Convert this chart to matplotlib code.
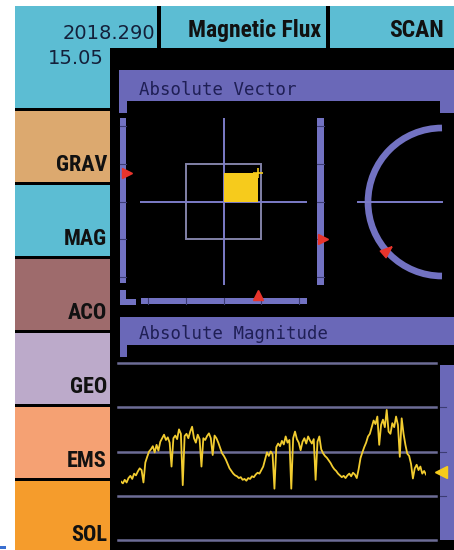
import os
import numpy as np
import matplotlib.pyplot as plt
from matplotlib import font_manager
from matplotlib.patches import Rectangle, Arc
from matplotlib.transforms import blended_transform_factory as blend

W, H = 454, 550

# header texts
date_str = "2018.290"
time_str = "15.05"
title_str = "Magnetic Flux"
mode_str = "SCAN"

sections = ["GRAV", "MAG", "ACO", "GEO", "EMS", "SOL"]
section_colors = ["#DCA96F", "#5CBDD3", "#9E6B6C", "#BCAACA", "#F5A173", "#F59C2C"]

# absolute vector (units of the inner box half width)
vec_x = 0.9
vec_y = 0.74
vec_z = -1.0
dial_angle = 221          # degrees
vector_ticks = [-2, -1, 0, 1, 2]

# absolute magnitude trace
magnitude = [
    1.32, 1.28, 1.36, 1.30, 1.40, 1.45, 1.38, 1.50, 1.46, 1.55, 1.62, 1.58, 1.30, 1.75, 1.88, 2.00,
    2.05, 2.12, 1.98, 2.15, 2.02, 2.22, 2.30, 2.38, 2.26, 2.32, 2.20, 1.66, 2.30, 2.36, 2.28, 2.50,
    2.40, 1.24, 2.35, 2.40, 2.30, 2.45, 2.56, 2.30, 2.20, 2.38, 2.28, 1.66, 2.30, 2.26, 2.35, 2.41,
    2.30, 1.92, 2.36, 2.30, 2.20, 2.08,
    1.96, 1.90, 1.82, 1.72, 1.62, 1.56, 1.50, 1.46, 1.44, 1.40, 1.42, 1.36, 1.38, 1.34, 1.40, 1.38,
    1.44, 1.42, 1.48, 1.52, 1.50, 1.58, 1.66,
    1.82, 1.98, 1.90, 2.00, 1.94, 1.16, 2.10, 2.18, 2.12, 2.24, 2.16, 2.34, 2.20, 2.26, 1.16, 2.30,
    2.45, 2.28, 2.20, 2.03, 2.22, 2.30, 2.18, 2.34, 2.25, 2.18, 2.28, 1.36, 2.22, 2.34, 2.05, 1.96,
    1.90, 1.86, 1.80, 1.74, 1.66, 1.60, 1.56, 1.50, 1.46, 1.42, 1.45, 1.40, 1.46, 1.50, 1.44, 1.52,
    1.48, 1.40,
    1.60, 1.85, 1.98, 2.10, 2.20, 2.34, 2.40, 2.55, 2.70, 2.62, 2.79, 2.15, 2.60, 2.72, 2.55, 2.94,
    2.45, 2.40, 2.64, 2.55, 2.79, 2.60, 1.88, 2.75, 2.40, 2.15, 1.95, 1.90, 1.72,
    1.39, 1.62, 1.70, 1.58, 1.66, 1.50, 1.56, 1.48,
]
grid_levels = [0, 1, 2, 3, 4]
current_level = 1.54

CYAN = "#5CBDD3"
PURPLE = "#6A68B8"
BAR = "#7272C2"
TICK = "#3C3C74"
RED = "#E8342C"
YELLOW = "#F6CB1C"
NAVY = "#1F1F55"

# look for an installed narrow/condensed bold face for the LCARS style labels
narrow_file = None
for pat in ["LiberationSansNarrow-Bold", "RobotoCondensed-Bold", "NotoSans-CondensedBold",
            "OpenSans_Condensed-Bold", "OpenSansCondensed-Bold", "DejaVuSansCondensed-Bold"]:
    for f in font_manager.fontManager.ttflist:
        if os.path.basename(f.fname).startswith(pat):
            narrow_file = f.fname
            break
    if narrow_file:
        break
if narrow_file:
    narrow = font_manager.FontProperties(fname=narrow_file)
    title_size, label_size = 17, 16
else:
    narrow = font_manager.FontProperties(family="DejaVu Sans", weight="bold")
    title_size, label_size = 13.5, 11.5

fig = plt.figure(figsize=(W / 100, H / 100), dpi=100)
fig.patch.set_facecolor("white")

# background frame in pixel units
bg = fig.add_axes([0, 0, 1, 1])
bg.set_xlim(0, W)
bg.set_ylim(H, 0)
bg.axis("off")


def box(x0, y0, x1, y1, color):
    bg.add_patch(Rectangle((x0, y0), x1 - x0, y1 - y0, facecolor=color,
                           edgecolor="none", zorder=1))


box(15, 6, W, H, "black")
box(15, 6, W, 48, CYAN)
box(157, 6, 161, 48, "black")
box(326, 6, 330, 48, "black")
box(15, 48, 110, 108, CYAN)
box(0, 546, 6, 549, "#3A6FD0")

bg.text(155, 39, date_str, ha="right", va="baseline", fontsize=14, color="#14203A", zorder=3)
bg.text(104, 64, time_str, ha="right", va="baseline", fontsize=14, color="#14203A", zorder=3)
bg.text(255, 37, title_str, ha="center", va="baseline", fontproperties=narrow,
        fontsize=title_size, color="#111111", zorder=3)
bg.text(444, 37, mode_str, ha="right", va="baseline", fontproperties=narrow,
        fontsize=title_size, color="#111111", zorder=3)

# side column
for i, (name, col) in enumerate(zip(sections, section_colors)):
    top = 111 + i * 74
    box(15, top, 110, min(top + 71, H), col)
    bg.text(107, top + 60, name, ha="right", va="baseline", fontproperties=narrow,
            fontsize=label_size, color="#111111", zorder=3)

# --- Absolute Vector panel frame
box(119, 70, W, 101, PURPLE)
box(119, 101, 127, 113, PURPLE)
box(440, 101, W, 113, PURPLE)
bg.text(139, 95, "Absolute Vector", ha="left", va="baseline", fontsize=12.5,
        family="DejaVu Sans Mono", color=NAVY, zorder=3)

box(120, 118, 126, 283, BAR)        # left scale
box(120, 290, 126, 305, BAR)
box(120, 299, 136, 305, BAR)
box(141, 298, 307, 304, BAR)        # bottom scale
box(317, 118, 324, 285, BAR)        # right scale

av = fig.add_axes([140 / W, 1 - 285 / H, 167 / W, 167 / H])
av.set_xlim(-2.2, 2.2)
av.set_ylim(-2.2, 2.2)
av.axis("off")
av.patch.set_alpha(0)
av.axhline(0, color="#7C7CC8", lw=1.4)
av.axvline(0, color="#7C7CC8", lw=1.4)
av.add_patch(Rectangle((-1, -1), 2, 2, fill=False, edgecolor="#8282A8", lw=1.4))
av.add_patch(Rectangle((0, 0), vec_x, vec_y, facecolor=YELLOW, edgecolor="none", zorder=3))
av.plot(vec_x, vec_y, marker="+", ms=7, mew=1.2, color=YELLOW, zorder=4)

bx_vy = blend(bg.transData, av.transData)
vx_by = blend(av.transData, bg.transData)
for v in vector_ticks:
    bg.plot([120, 126], [v, v], transform=bx_vy, color=TICK, lw=0.8, zorder=2)
    bg.plot([317, 324], [v, v], transform=bx_vy, color=TICK, lw=0.8, zorder=2)
    bg.plot([v, v], [298, 304], transform=vx_by, color=TICK, lw=0.8, zorder=2)
bg.plot(127, vec_y, transform=bx_vy, marker=">", ms=7, color=RED, zorder=5)
bg.plot(323, vec_z, transform=bx_vy, marker=">", ms=7, color=RED, zorder=5)
bg.plot(vec_x, 295, transform=vx_by, marker="^", ms=7, color=RED, zorder=5)

# dial
cx, cy, r = 442, 202, 74
bg.add_patch(Arc((cx, cy), 2 * r, 2 * r, theta1=90, theta2=270, color=BAR, lw=4.8, zorder=2))
bg.plot([cx - 84, cx], [cy, cy], color="#7C7CC8", lw=1.4, zorder=2)
a = np.deg2rad(dial_angle)
d = np.array([-np.cos(a), -np.sin(a)])      # points toward the dial centre
p = np.array([-d[1], d[0]])
wedge = [tuple(d), tuple(-0.6 * d + 0.6 * p), tuple(-0.6 * d - 0.6 * p), tuple(d)]
bg.plot(cx + r * np.cos(a), cy - r * np.sin(a), marker=wedge, ms=9, color=RED, zorder=5)

# --- Absolute Magnitude panel
box(120, 317, W, 345, PURPLE)
box(120, 345, 127, 357, PURPLE)
box(440, 365, W, 540, PURPLE)
bg.text(139, 339, "Absolute Magnitude", ha="left", va="baseline", fontsize=12.5,
        family="DejaVu Sans Mono", color=NAVY, zorder=3)

am = fig.add_axes([121 / W, 1 - 540 / H, 305 / W, 177 / H])
am.set_xlim(0, len(magnitude) - 1)
am.set_ylim(0, 4)
am.axis("off")
am.patch.set_alpha(0)
bx_my = blend(bg.transData, am.transData)
for g in grid_levels:
    bg.plot([118, 436], [g, g], transform=bx_my, color="#6C6C96", lw=1.8, zorder=2)
    if 0 < g < 4:
        bg.plot([440, 446], [g, g], transform=bx_my, color=TICK, lw=0.8, zorder=2)
am.plot(np.arange(len(magnitude)), magnitude, color="#F2CC30", lw=1.3, zorder=3)
bg.plot(441, current_level, transform=bx_my, marker="<", ms=8, color=YELLOW, zorder=5)

fig.savefig("out.png", dpi=100, facecolor="white")
